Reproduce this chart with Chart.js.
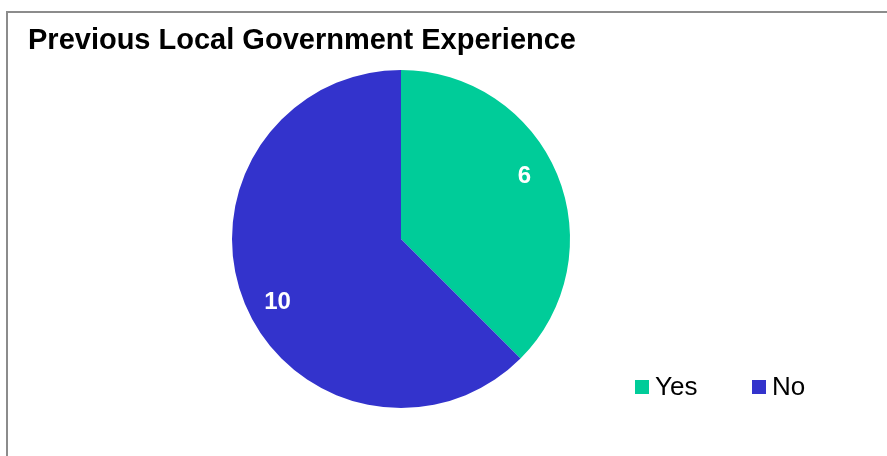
<!DOCTYPE html>
<html>
<head>
<meta charset="utf-8">
<script src="https://cdn.jsdelivr.net/npm/chart.js@4/dist/chart.umd.min.js"></script>
<style>
  html, body { margin: 0; padding: 0; background: #fff; }
  #wrap { position: relative; width: 887px; height: 456px; }
  #frame {
    position: absolute; left: 6px; top: 11px; right: 0; bottom: 0;
    border-left: 2px solid #8c8c8c; border-top: 2px solid #8c8c8c;
  }
  canvas { position: absolute; left: 0; top: 0; }
</style>
</head>
<body>
<div id="wrap">
  <div id="frame"></div>
  <canvas id="pie" width="887" height="456"></canvas>
</div>
<script>
const chartTitle = "Previous Local Government Experience";
const categories = ["Yes", "No"];
const counts = [6, 10];
const sliceColors = ["#00cc99", "#3333cc"];

const FONT = "'Liberation Sans', Arial, sans-serif";

// title, slice value labels and the legend are painted by hand
const decorations = {
  id: "decorations",
  afterDatasetsDraw(chart) {
    const ctx = chart.ctx;
    ctx.save();

    ctx.fillStyle = "#000";
    ctx.font = "bold 29px " + FONT;
    ctx.textBaseline = "alphabetic";
    ctx.textAlign = "left";
    ctx.fillText(chartTitle, 28, 49);

    // values inside each slice
    const meta = chart.getDatasetMeta(0);
    ctx.fillStyle = "#fff";
    ctx.font = "bold 24px " + FONT;
    ctx.textAlign = "center";
    ctx.textBaseline = "middle";
    meta.data.forEach((arc, i) => {
      const p = arc.getProps(["x", "y", "startAngle", "endAngle", "outerRadius"], true);
      const mid = (p.startAngle + p.endAngle) / 2 - 0.08;
      const r = p.outerRadius * 0.82;
      ctx.fillText(String(counts[i]), p.x + Math.cos(mid) * r, p.y + Math.sin(mid) * r);
    });

    // legend
    const legendX = [635, 752];
    ctx.font = "26px " + FONT;
    ctx.textAlign = "left";
    ctx.textBaseline = "middle";
    categories.forEach((name, i) => {
      ctx.fillStyle = sliceColors[i];
      ctx.fillRect(legendX[i], 380, 14, 14);
      ctx.fillStyle = "#000";
      ctx.fillText(name, legendX[i] + 20, 388);
    });

    ctx.restore();
  }
};

new Chart(document.getElementById("pie"), {
  type: "pie",
  data: {
    labels: categories,
    datasets: [{
      data: counts,
      backgroundColor: sliceColors,
      borderWidth: 0
    }]
  },
  options: {
    responsive: false,
    animation: false,
    layout: { padding: { left: 232, right: 317, top: 70, bottom: 48 } },
    plugins: {
      legend: { display: false },
      tooltip: { enabled: false },
      title: { display: false }
    }
  },
  plugins: [decorations]
});
</script>
</body>
</html>
